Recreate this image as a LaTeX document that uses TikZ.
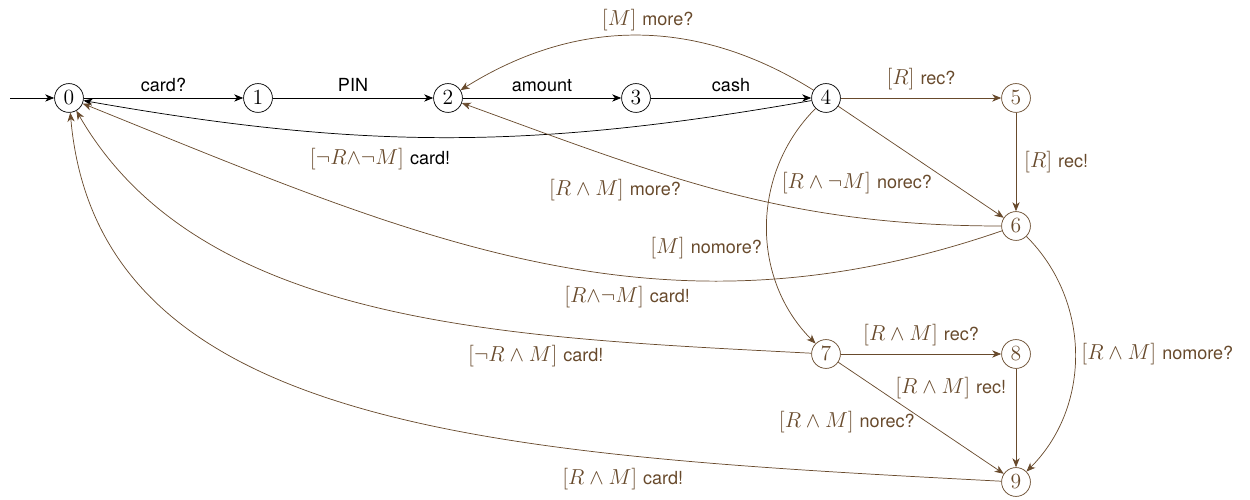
\documentclass[tikz,border=0pt]{standalone}
\usepackage{fontspec}
\newfontfamily\hv{TeX Gyre Heros}
\usetikzlibrary{arrows.meta}
\definecolor{brn}{RGB}{104,74,44}
\newcommand{\mth}[1]{{\fontsize{12}{14}\selectfont$[#1]$}}
\newcommand{\gl}[2]{\mth{#1} {\hv #2}}
\tikzset{
  st/.style={circle, draw=black, text=black, minimum size=16pt, inner sep=0pt, font=\fontsize{12}{14}\selectfont},
  bst/.style={st, draw=brn, text=brn},
  tr/.style={draw=black, -{Stealth[length=5pt,width=4pt,inset=1.5pt]}},
  btr/.style={tr, draw=brn},
  lab/.style={text=brn},
  klab/.style={text=black}
}
\begin{document}
\begin{tikzpicture}[x=0.0195cm,y=-0.0195cm]
\useasboundingbox (0,0) rectangle (1250,500);
\node[st] (n0) at (69,98) {$0$};
\node[st] (n1) at (258,98) {$1$};
\node[st] (n2) at (448,98) {$2$};
\node[st] (n3) at (636,98) {$3$};
\node[st] (n4) at (826,98) {$4$};
\node[bst] (n5) at (1016,98) {$5$};
\node[bst] (n6) at (1016,226) {$6$};
\node[bst] (n7) at (826,354) {$7$};
\node[bst] (n8) at (1016,354) {$8$};
\node[bst] (n9) at (1016,482) {$9$};
\coordinate (s) at (10,98);

\draw[tr] (s) -- (n0);
\draw[tr] (n0) -- node[klab,above] (l01) {\hv card?} (n1);
\draw[tr] (n1) -- node[klab,above] (l12) {\hv PIN} (n2);
\draw[tr] (n2) -- node[klab,above] (l23) {\hv amount} (n3);
\draw[tr] (n3) -- node[klab,above] (l34) {\hv cash} (n4);
\draw[tr] (n4) to[out=190,in=-10] node[pos=0.6,below,yshift=-3pt] (l40) {\textcolor{brn}{\mth{\neg R{\wedge}\neg M}} {\hv card!}} (n0);

\draw[btr] (n4) to[bend right=32] node[lab,pos=0.47,above,yshift=-1pt] (l42) {\gl{M}{more?}} (n2);
\draw[btr] (n4) -- node[lab,above,yshift=1pt] (l45) {\gl{R}{rec?}} (n5);
\draw[btr] (n5) -- node[lab,right,xshift=1pt] (l56) {\gl{R}{rec!}} (n6);
\draw[btr] (n4) -- node[lab,pos=0.67,left,xshift=-6pt,yshift=-1pt] (l46) {\gl{R\wedge\neg M}{norec?}} (n6);
\draw[btr] (n4) to[bend right=45] node[lab,pos=0.58,left,yshift=-1pt] (l47) {\gl{M}{nomore?}} (n7);
\draw[btr] (n6) to[out=180,in=-20] node[lab,pos=0.58,left,yshift=-5pt] (l62) {\gl{R\wedge M}{more?}} (n2);
\draw[btr] (n6) to[out=199,in=-22] node[lab,pos=0.4,below,yshift=-2pt] (l60) {\gl{R{\wedge}\neg M}{card!}} (n0);
\draw[btr] (n6) to[bend left=45] node[lab,right] (l69) {\gl{R\wedge M}{nomore?}} (n9);
\draw[btr] (n7) to[out=177,in=-60,out distance=166pt,in distance=139pt] node[lab,pos=0.31,below,yshift=-3pt] (l70) {\gl{\neg R\wedge M}{card!}} (n0);
\draw[btr] (n7) -- node[lab,above,yshift=1pt] (l78) {\gl{R\wedge M}{rec?}} (n8);
\draw[btr] (n7) -- node[lab,pos=0.5,left,yshift=-2pt] (l79) {\gl{R\wedge M}{norec?}} (n9);
\draw[btr] (n8) -- node[lab,pos=0.2,left,xshift=-2pt] (l89) {\gl{R\wedge M}{rec!}} (n9);
\draw[btr] (n9) to[out=177,in=-85,out distance=278pt,in distance=178pt] node[lab,pos=0.27,below,yshift=-4pt] (l90) {\gl{R\wedge M}{card!}} (n0);
\end{tikzpicture}
\end{document}
